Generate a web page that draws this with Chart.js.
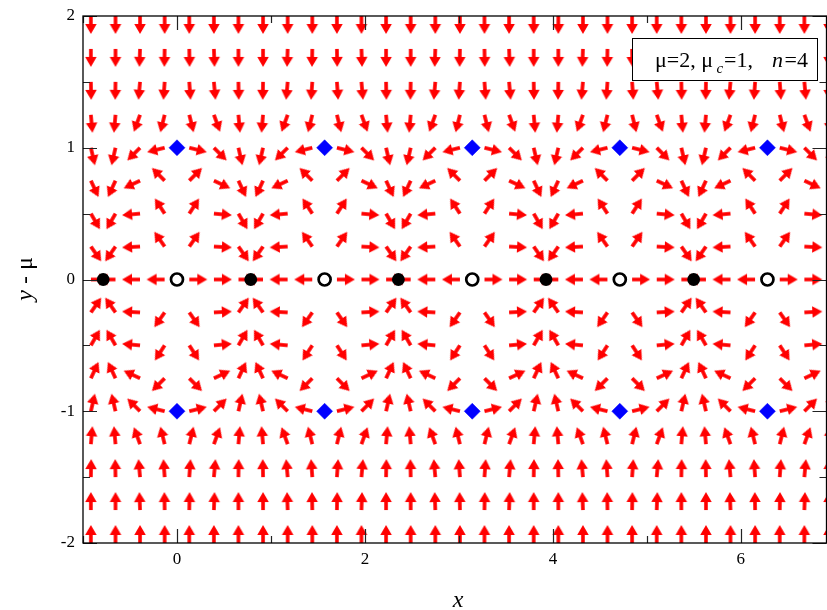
<!DOCTYPE html>
<html>
<head>
<meta charset="utf-8">
<script src="https://cdn.jsdelivr.net/npm/chart.js@4/dist/chart.umd.min.js"></script>
<style>
  html, body { margin: 0; padding: 0; background: #ffffff; }
  #wrap { width: 827px; height: 610px; position: relative; }
</style>
</head>
<body>
<div id="wrap"><canvas id="c" width="827" height="610"></canvas></div>
<script>
// ---------------- data ----------------
// arrow tail positions (x) and rows (y - mu)
const xGrid = [-0.916, -0.654, -0.393, -0.131, 0.131, 0.393, 0.654, 0.916, 1.178, 1.440,
               1.702, 1.963, 2.225, 2.487, 2.749, 3.011, 3.272, 3.534, 3.796, 4.058,
               4.320, 4.581, 4.843, 5.105, 5.367, 5.629, 5.890, 6.152, 6.414, 6.676, 6.938];
const yGrid = [2, 1.75, 1.5, 1.25, 1, 0.75, 0.5, 0.25, 0, -0.25, -0.5, -0.75, -1, -1.25, -1.5, -1.75, -2];

// arrow direction, degrees counter-clockwise from +x, one row per yGrid value
const arrowAngles = [
  [-90,-90,-90,-90,-90,-90, -90,-90,-90,-90,-90,-90, -90,-90,-90,-90,-90,-90, -90,-90,-90,-90,-90,-90, -90,-90,-90,-90,-90,-90, -90],
  [-90,-90,-92,-91,-89,-88, -90,-90,-92,-91,-89,-88, -90,-90,-92,-91,-89,-88, -90,-90,-92,-91,-89,-88, -90,-90,-92,-91,-89,-88, -90],
  [-89,-91,-95,-94,-86,-85, -89,-91,-95,-94,-86,-85, -89,-91,-95,-94,-86,-85, -89,-91,-95,-94,-86,-85, -89,-91,-95,-94,-86,-85, -89],
  [-85,-95,-110,-104,-76,-70, -85,-95,-110,-104,-76,-70, -85,-95,-110,-104,-76,-70, -85,-95,-110,-104,-76,-70, -85,-95,-110,-104,-76,-70, -85],
  [-77,-103,-135,-166,-14,-45, -77,-103,-135,-166,-14,-45, -77,-103,-135,-166,-14,-45, -77,-103,-135,-166,-14,-45, -77,-103,-135,-166,-14,-45, -77],
  [-65,-115,-155,135,45,-25, -65,-115,-155,135,45,-25, -65,-115,-155,135,45,-25, -65,-115,-155,135,45,-25, -65,-115,-155,135,45,-25, -65],
  [-60,-120,-175,123,57,-5, -60,-120,-175,123,57,-5, -60,-120,-175,123,57,-5, -60,-120,-175,123,57,-5, -60,-120,-175,123,57,-5, -60],
  [-55,-125,-177,125,55,-3, -55,-125,-177,125,55,-3, -55,-125,-177,125,55,-3, -55,-125,-177,125,55,-3, -55,-125,-177,125,55,-3, -55],
  [0,180,180,180,0,0, 0,180,180,180,0,0, 0,180,180,180,0,0, 0,180,180,180,0,0, 0,180,180,180,0,0, 0],
  [55,125,177,-125,-55,3, 55,125,177,-125,-55,3, 55,125,177,-125,-55,3, 55,125,177,-125,-55,3, 55,125,177,-125,-55,3, 55],
  [60,120,175,-123,-57,5, 60,120,175,-123,-57,5, 60,120,175,-123,-57,5, 60,120,175,-123,-57,5, 60,120,175,-123,-57,5, 60],
  [65,115,155,-135,-45,25, 65,115,155,-135,-45,25, 65,115,155,-135,-45,25, 65,115,155,-135,-45,25, 65,115,155,-135,-45,25, 65],
  [77,103,135,166,14,45, 77,103,135,166,14,45, 77,103,135,166,14,45, 77,103,135,166,14,45, 77,103,135,166,14,45, 77],
  [85,95,110,104,76,70, 85,95,110,104,76,70, 85,95,110,104,76,70, 85,95,110,104,76,70, 85,95,110,104,76,70, 85],
  [89,91,95,94,86,85, 89,91,95,94,86,85, 89,91,95,94,86,85, 89,91,95,94,86,85, 89,91,95,94,86,85, 89],
  [90,90,92,91,89,88, 90,90,92,91,89,88, 90,90,92,91,89,88, 90,90,92,91,89,88, 90,90,92,91,89,88, 90],
  [90,90,90,90,90,90, 90,90,90,90,90,90, 90,90,90,90,90,90, 90,90,90,90,90,90, 90,90,90,90,90,90, 90]
];

// fixed points
const stableX   = [-0.785, 0.785, 2.356, 3.927, 5.498];   // filled black dots
const unstableX = [0, 1.571, 3.142, 4.712, 6.283];        // open circles
const saddleX   = [0, 1.571, 3.142, 4.712, 6.283];        // blue diamonds
const saddleY   = [1, -1];
const fixedY    = 0;

// axes
const xTickValues = [0, 2, 4, 6];
const xMinorTicks = [-1, 1, 3, 5];
const yTickValues = [-2, -1, 0, 1, 2];
const yMinorTicks = [-1.5, -0.5, 0.5, 1.5];
const xRange = [-1, 6.9115];
const yRange = [-2, 2];

// ---------------- build ----------------
const SERIF = "'Liberation Serif', 'Times New Roman', serif";

function makeArrow() {
  const c = document.createElement('canvas');
  c.width = 44; c.height = 44;
  const g = c.getContext('2d');
  g.fillStyle = '#ff0000';
  // tail at centre (22,22), pointing to +x
  g.fillRect(22, 20.2, 9, 3.6);
  g.beginPath();
  g.moveTo(30, 16.3);
  g.lineTo(40, 22);
  g.lineTo(30, 27.7);
  g.closePath();
  g.fill();
  return c;
}
const arrowImg = makeArrow();

const arrowPoints = [];
yGrid.forEach((y, i) => {
  xGrid.forEach((x, j) => {
    arrowPoints.push({ x: x, y: y, a: arrowAngles[i][j] });
  });
});

const stablePoints = stableX.map(x => ({ x: x, y: fixedY }));
const unstablePoints = unstableX.map(x => ({ x: x, y: fixedY }));
const saddlePoints = [];
saddleY.forEach(y => saddleX.forEach(x => saddlePoints.push({ x: x, y: y })));

const framePlugin = {
  id: 'framePlugin',
  afterDatasetsDraw(chart) {
    const ctx = chart.ctx;
    const a = chart.chartArea;
    const xs = chart.scales.x, ys = chart.scales.y;
    ctx.save();
    // ticks (inward on all sides)
    ctx.strokeStyle = '#222';
    ctx.lineWidth = 1.2;
    ctx.beginPath();
    const vt = (v, len) => {
      const p = Math.round(xs.getPixelForValue(v)) + 0.5;
      ctx.moveTo(p, a.bottom); ctx.lineTo(p, a.bottom - len);
      ctx.moveTo(p, a.top); ctx.lineTo(p, a.top + len);
    };
    const ht = (v, len) => {
      const p = Math.round(ys.getPixelForValue(v)) + 0.5;
      ctx.moveTo(a.left, p); ctx.lineTo(a.left + len, p);
      ctx.moveTo(a.right, p); ctx.lineTo(a.right - len, p);
    };
    xTickValues.forEach(v => vt(v, 14));
    xMinorTicks.forEach(v => vt(v, 7));
    yTickValues.forEach(v => ht(v, 14));
    yMinorTicks.forEach(v => ht(v, 7));
    ctx.stroke();
    // frame
    ctx.strokeStyle = '#000';
    ctx.lineWidth = 1.3;
    ctx.strokeRect(a.left, a.top, a.right - a.left, a.bottom - a.top);

    // legend box
    ctx.fillStyle = '#fff';
    ctx.fillRect(632.5, 38.5, 185, 42);
    ctx.strokeStyle = '#000';
    ctx.lineWidth = 1;
    ctx.strokeRect(632.5, 38.5, 185, 42);
    ctx.fillStyle = '#000';
    ctx.textBaseline = 'alphabetic';
    ctx.textAlign = 'left';
    const nf = '22px ' + SERIF, itf = 'italic 22px ' + SERIF, sub = 'italic 15px ' + SERIF;
    ctx.font = nf;  ctx.fillText('\u03bc=2, \u03bc', 655, 67);
    ctx.font = sub; ctx.fillText('c', 716.5, 73);
    ctx.font = nf;  ctx.fillText('=1,', 724, 67);
    ctx.font = itf; ctx.fillText('n', 772, 67);
    ctx.font = nf;  ctx.fillText('=4', 784.5, 67);

    // x axis title
    ctx.font = 'italic 24px ' + SERIF;
    ctx.textAlign = 'center';
    ctx.fillText('x', 458, 607);

    // y axis title (rotated)
    ctx.translate(32, 279);
    ctx.rotate(-Math.PI / 2);
    ctx.textAlign = 'left';
    ctx.font = 'italic 24px ' + SERIF;
    const w1 = ctx.measureText('y').width;
    ctx.font = '24px ' + SERIF;
    const w2 = ctx.measureText(' - \u03bc').width;
    const x0 = -(w1 + w2) / 2;
    ctx.font = 'italic 24px ' + SERIF;
    ctx.fillText('y', x0, 0);
    ctx.font = '24px ' + SERIF;
    ctx.fillText(' - \u03bc', x0 + w1, 0);
    ctx.restore();
  }
};

new Chart(document.getElementById('c'), {
  type: 'scatter',
  data: {
    datasets: [
      {
        label: 'stable',
        data: stablePoints,
        pointStyle: 'circle',
        pointRadius: 6.4, pointHoverRadius: 6.4,
        backgroundColor: '#000000', borderColor: '#000000', borderWidth: 0,
        order: 1
      },
      {
        label: 'unstable',
        data: unstablePoints,
        pointStyle: 'circle',
        pointRadius: 6, pointHoverRadius: 6,
        backgroundColor: '#ffffff', borderColor: '#000000', borderWidth: 2.7,
        order: 1
      },
      {
        label: 'saddle',
        data: saddlePoints,
        pointStyle: 'rectRot',
        pointRadius: 8, pointHoverRadius: 8,
        backgroundColor: '#0000ff', borderColor: '#0000ff', borderWidth: 0.5,
        order: 1
      },
      {
        label: 'field',
        data: arrowPoints,
        pointStyle: arrowImg,
        pointRotation: (c) => (c.raw ? -c.raw.a : 0),
        pointRadius: 10, pointHoverRadius: 10,
        backgroundColor: '#ff0000', borderColor: '#ff0000', borderWidth: 0,
        clip: 0,
        order: 10
      }
    ]
  },
  options: {
    responsive: false,
    devicePixelRatio: 1,
    animation: false,
    events: [],
    layout: { autoPadding: false, padding: { top: 16, right: 0.5, left: 0, bottom: 0 } },
    plugins: { legend: { display: false }, tooltip: { enabled: false } },
    scales: {
      x: {
        type: 'linear',
        min: xRange[0], max: xRange[1],
        afterBuildTicks: (s) => { s.ticks = xTickValues.map(v => ({ value: v })); },
        afterFit: (s) => { s.height = 67; s.paddingLeft = 0; s.paddingRight = 0; },
        grid: { display: false, drawTicks: false },
        border: { display: false },
        ticks: {
          autoSkip: false, maxRotation: 0, padding: 6,
          color: '#000', font: { family: SERIF, size: 17 },
          callback: (v) => String(v)
        }
      },
      y: {
        type: 'linear',
        min: yRange[0], max: yRange[1],
        afterBuildTicks: (s) => { s.ticks = yTickValues.map(v => ({ value: v })); },
        afterFit: (s) => { s.width = 83; s.paddingTop = 0; s.paddingBottom = 0; },
        grid: { display: false, drawTicks: false },
        border: { display: false },
        ticks: {
          autoSkip: false, padding: 8,
          color: '#000', font: { family: SERIF, size: 17 },
          callback: (v) => String(v)
        }
      }
    }
  },
  plugins: [framePlugin]
});
</script>
</body>
</html>
